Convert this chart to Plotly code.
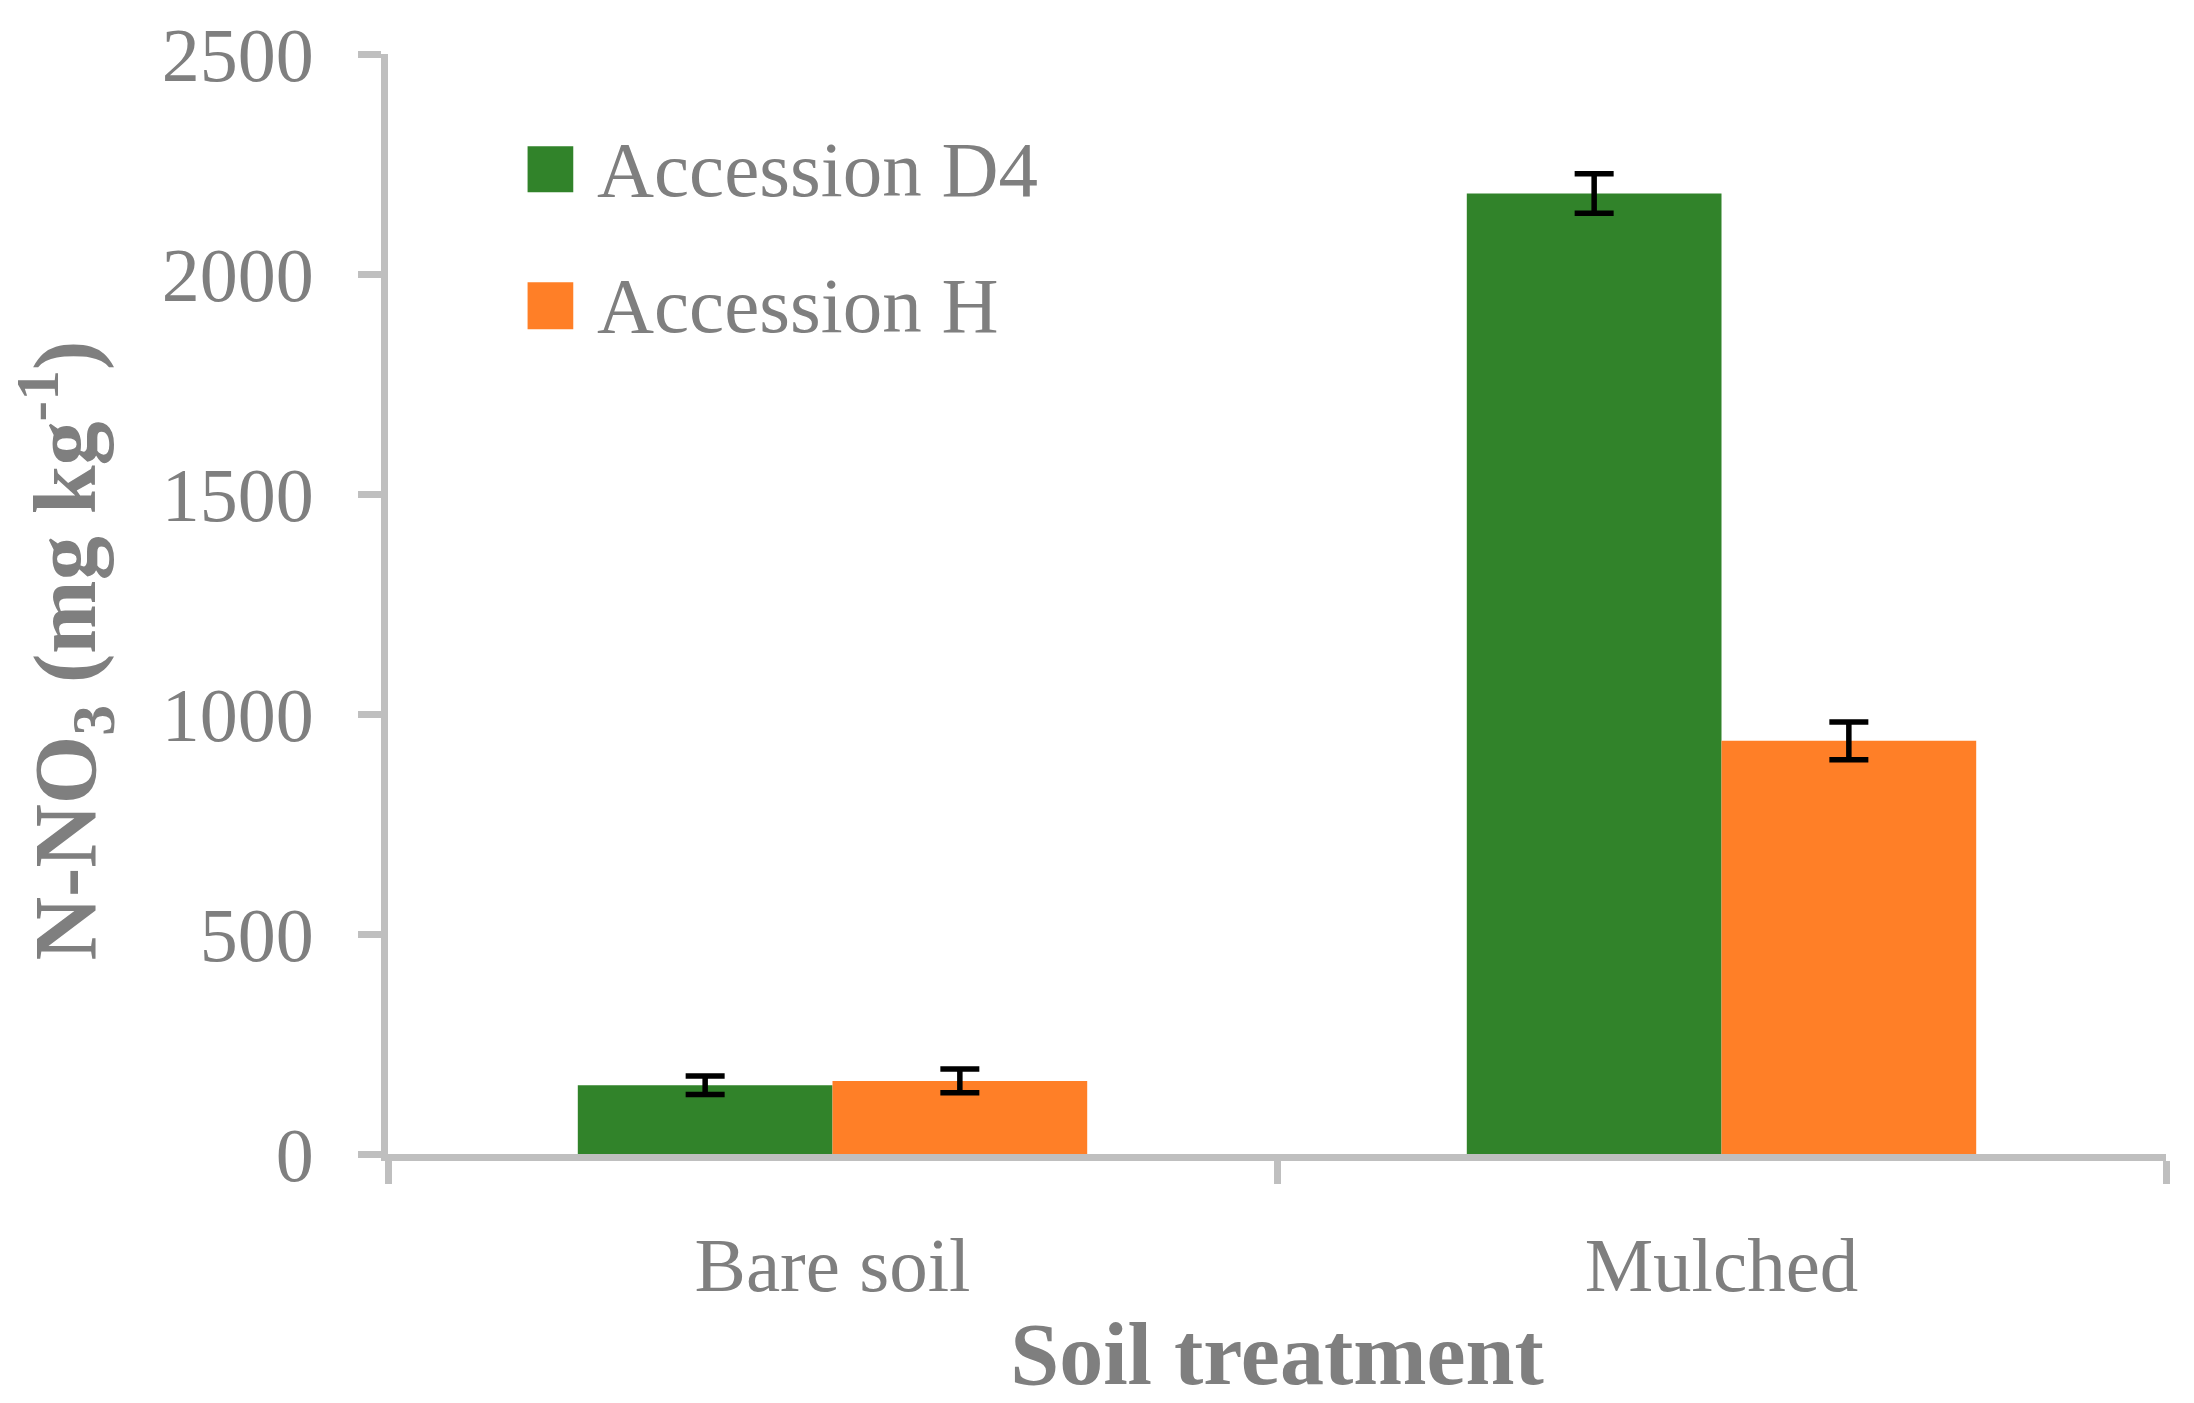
import plotly.graph_objects as go

categories = ["Bare soil", "Mulched"]
series_names = ["Accession D4", "Accession H"]
d4_values = [156, 2183]
d4_errors = [21, 45]
h_values = [166, 939]
h_errors = [27, 43]
y_ticks = [0, 500, 1000, 1500, 2000, 2500]
x_title = "Soil treatment"
y_title = "N-NO<sub>3</sub> (mg kg<sup>-1</sup>)"

colors = ["#31832A", "#FF7F27"]
text_color = "#7F7F7F"
axis_color = "#BFBFBF"
font_family = "Liberation Serif"

fig = go.Figure()
for name, vals, errs, col in zip(series_names, [d4_values, h_values], [d4_errors, h_errors], colors):
    fig.add_trace(go.Bar(
        x=categories, y=vals, name=name,
        marker=dict(color=col, line=dict(width=0)),
        error_y=dict(type="data", array=errs, visible=True, color="black", thickness=5.5, width=19.5),
        showlegend=False,
    ))

# legend drawn as keys + text (matching large square keys of reference)
key_x0, key_x1 = 0.0785, 0.1042
key_rows = [(0.8743, 0.9161), (0.7498, 0.7925)]
for (y0, y1), name, col in zip(key_rows, series_names, colors):
    fig.add_shape(type="rect", xref="paper", yref="paper", x0=key_x0, x1=key_x1, y0=y0, y1=y1,
                  fillcolor=col, line=dict(width=0))
    fig.add_annotation(xref="paper", yref="paper", x=0.1162, y=(y0 + y1) / 2, text=name,
                       showarrow=False, xanchor="left", yanchor="middle",
                       font=dict(family=font_family, size=79, color=text_color))

# y-axis title (placed as in the reference, slightly below the plot centre)
fig.add_annotation(xref="paper", yref="paper", x=-0.182, y=0.458, text=y_title,
                   textangle=-90, showarrow=False, xanchor="center", yanchor="middle",
                   font=dict(family=font_family, size=88, color=text_color, weight="bold"))

fig.update_layout(
    width=2186, height=1395,
    margin=dict(l=380, r=28, t=46, b=249, autoexpand=False),
    paper_bgcolor="white", plot_bgcolor="white",
    barmode="group", bargap=0.427, bargroupgap=0,
    font=dict(family=font_family, color=text_color, size=76),
)
fig.update_xaxes(
    showline=True, linecolor=axis_color, linewidth=7,
    ticks="outside", tickson="boundaries", ticklen=23, tickwidth=7, tickcolor=axis_color,
    tickfont=dict(family=font_family, size=77, color=text_color),
    ticklabelstandoff=38,
    title=dict(text=x_title, standoff=18,
               font=dict(family=font_family, size=88, color=text_color, weight="bold")),
    showgrid=False, zeroline=False,
)
fig.update_yaxes(
    range=[0, 2500], tickvals=y_ticks, ticktext=[str(v) for v in y_ticks],
    showline=True, linecolor=axis_color, linewidth=7,
    ticks="outside", ticklen=23, tickwidth=7, tickcolor=axis_color,
    tickfont=dict(family=font_family, size=76, color=text_color),
    ticklabelstandoff=29,
    showgrid=False, zeroline=False,
)

fig.write_html("out.html")
